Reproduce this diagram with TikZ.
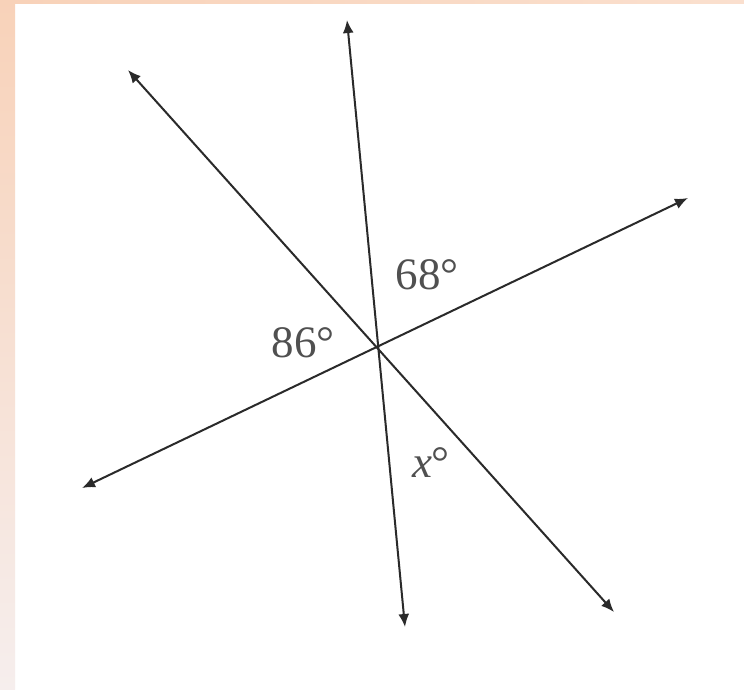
\documentclass[tikz,border=0pt]{standalone}
\usepackage{fontspec}
\setmainfont{Liberation Serif}
\usepackage{tikz}
\usetikzlibrary{arrows.meta,calc,positioning}
\definecolor{SlidePeach}{HTML}{F8D2B9}
\definecolor{SlidePale}{HTML}{F6EEED}
\definecolor{lineC}{HTML}{2A2A2A}
\definecolor{labelC}{HTML}{505050}

\begin{document}
\begin{tikzpicture}[
  x=1pt,y=-1pt,
  ray/.style={{Latex[length=13pt,width=11pt]}-{Latex[length=13pt,width=11pt]},line width=2pt,draw=lineC},
  lbl/.style={text=labelC,font=\fontsize{45}{50}\selectfont,inner sep=0pt}
]
% slide background
\fill[white] (0,0) rectangle (744,689);
\shade[top color=SlidePeach,bottom color=SlidePale] (0,0) rectangle (15,689);
\shade[left color=SlidePeach,right color=SlidePeach!70!white] (15,0) rectangle (744,3);
\useasboundingbox (0,0) rectangle (744,689);

% crossing point and line ends
\coordinate (O) at (377,345);
\coordinate (vtop) at (347,20);
\coordinate (vbot) at (405,627);
\coordinate (nw) at (128,70);
\coordinate (se) at (614,612);
\coordinate (sw) at (82,488);
\coordinate (ne) at (688,198);

\draw[ray] (vtop) -- (vbot);
\draw[ray] (nw) -- (se);
\draw[ray] (sw) -- (ne);

% angle labels
\node[lbl] (a68) at (427,275) {68°};
\node[lbl] (a86) at (303,343) {86°};
\node[lbl] (ax) at (431,463) {\textit{x}°};
\end{tikzpicture}
\end{document}
